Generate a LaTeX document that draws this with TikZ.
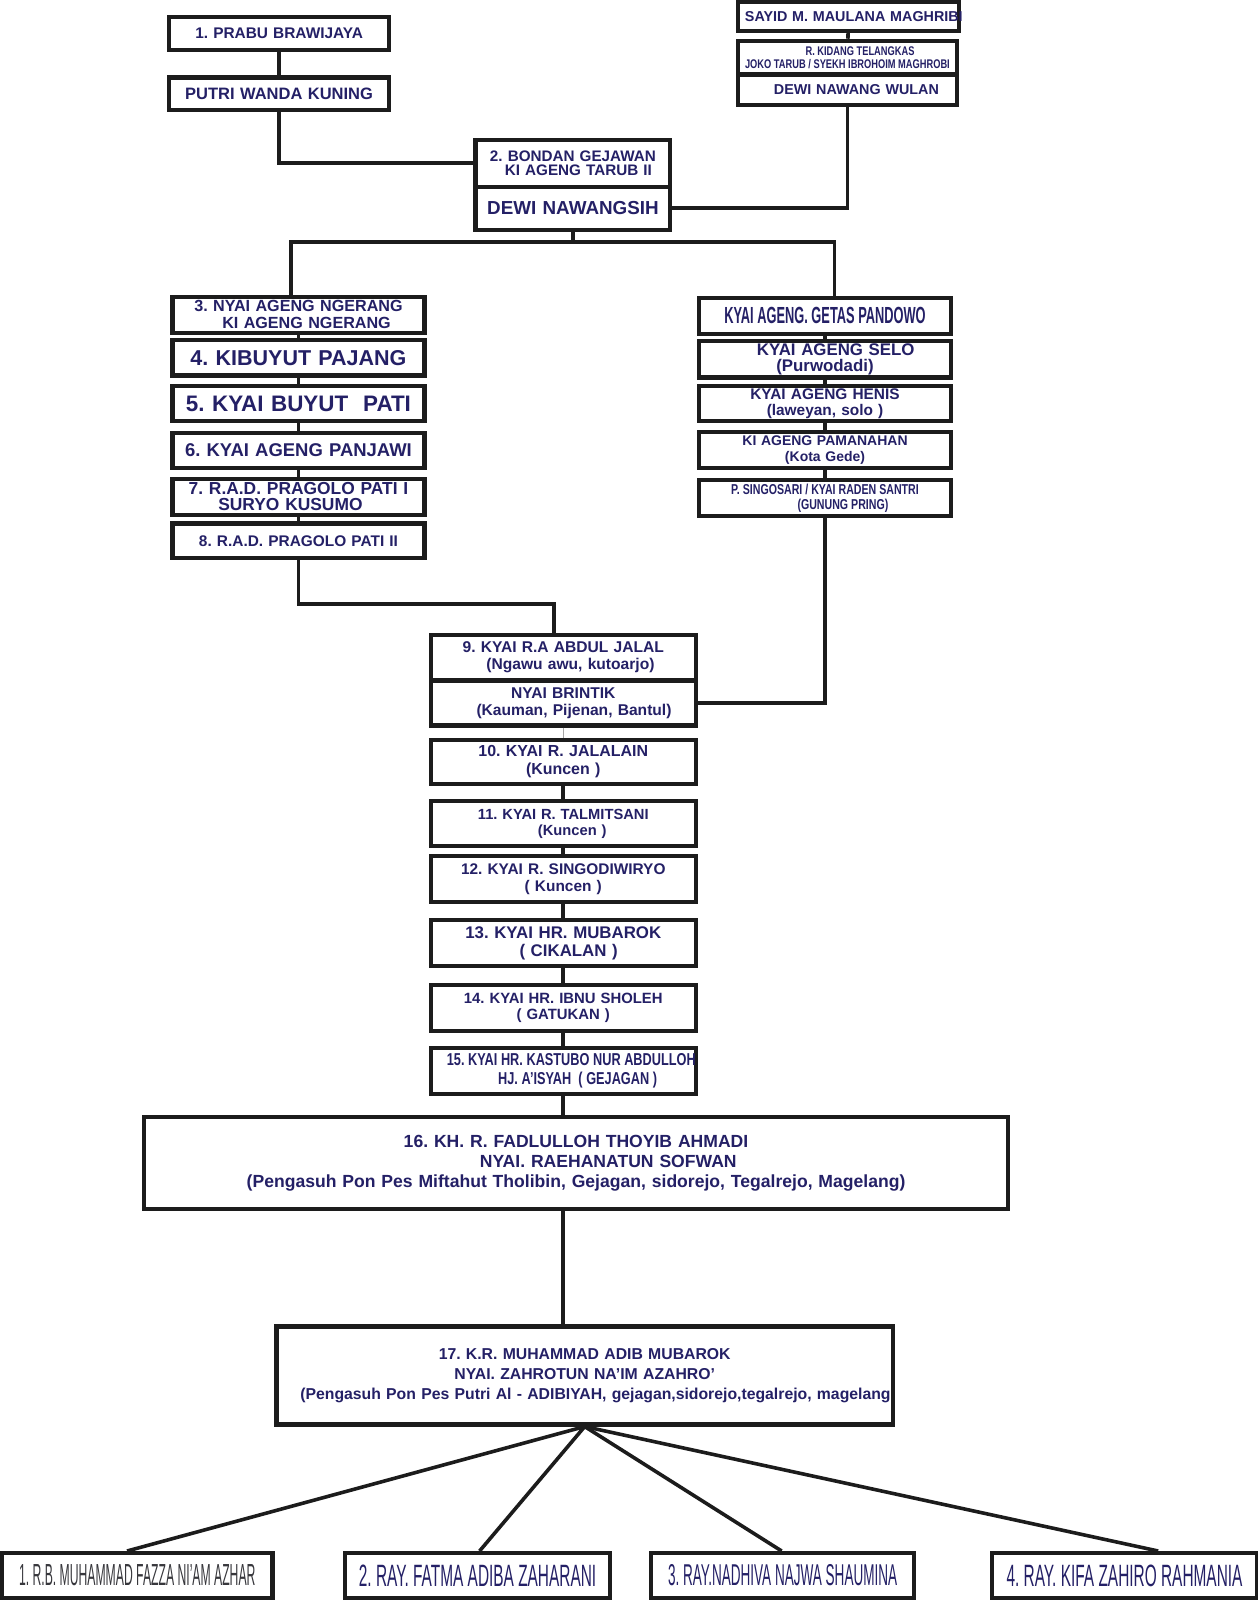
\documentclass[tikz,border=0pt]{standalone}
\usepackage{fontspec}
\setmainfont{Liberation Sans}
\newfontfamily\CondA[FakeStretch=0.4]{Liberation Sans}
\newfontfamily\CondB[FakeStretch=0.45]{Liberation Sans}
\newfontfamily\CondC[FakeStretch=0.5]{Liberation Sans}
\newfontfamily\NarrowA[FakeStretch=0.55]{Liberation Sans}
\newfontfamily\NarrowB[FakeStretch=0.74]{Liberation Sans}
\usetikzlibrary{positioning,calc}
\newcommand{\Px}{0.02cm}
\newcommand{\BoxLine}{2.3pt}
\newcommand{\LinkLine}{2pt}
\newcommand{\LeftX}{292.5}
\newcommand{\RightX}{808.5}
\newcommand{\MidX}{552}
\newcommand{\SideW}{247}
\newcommand{\MidW}{260}
\definecolor{LineBlack}{RGB}{28, 28, 28}
\definecolor{NameBlue}{RGB}{36, 32, 102}
\definecolor{NameGrey}{RGB}{55, 55, 60}
\newcommand{\NameFont}[2]{\fontsize{#1}{#2}\bfseries\selectfont}
\newcommand{\SqueezeFont}[3]{#1\fontsize{#2}{#3}\selectfont}
\newcommand{\Tight}[1]{\spaceskip=#1\xspaceskip=#1\relax}
\tikzset{
  boxsize/.style 2 args={minimum width=#1*\Px, text width=#1*\Px, minimum height=#2*\Px},
}
\frenchspacing
\begin{document}
\begin{tikzpicture}[x=\Px, y=-\Px]
  \tikzstyle{person}=[draw=LineBlack, line width=\BoxLine, fill=white, inner sep=0pt, align=center, text=NameBlue]
  \tikzstyle{link}=[draw=LineBlack, line width=\LinkLine]
  \fill[white] (0,0) rectangle (1232,1568);
  \useasboundingbox (0,0) rectangle (1232,1568);

  % First couple
  \node[person, boxsize={215}{32}, font=\NameFont{8.6pt}{10pt}] (prabu) at (273.5,33) {1. PRABU BRAWIJAYA};
  \node[person, boxsize={215}{32}, font=\NameFont{9.2pt}{10pt}] (wanda) at (273.5,92) {PUTRI WANDA KUNING};
  \node[person, boxsize={217}{28}, font=\NameFont{8pt}{9pt}] (sayid) at (831.5,16) {\mbox{\hspace*{4pt}SAYID M. MAULANA MAGHRIBI}};
  \node[person, boxsize={215}{33}, font=\bfseries\SqueezeFont{\NarrowB}{7pt}{7.6pt}] (kidang) at (830.5,56.5) {\Tight{1.45pt}\hspace*{14pt}R. KIDANG TELANGKAS\\\mbox{JOKO TARUB / SYEKH IBROHOIM MAGHROBI}};
  \node[person, boxsize={215}{30}, font=\NameFont{8pt}{9pt}] (wulan) at (830.5,88) {\hspace*{10pt}DEWI NAWANG WULAN};

  % Second couple
  \node[person, boxsize={191}{46}, font=\NameFont{8.5pt}{7.8pt}] (bondan) at (561.5,160) {2. BONDAN GEJAWAN\\\hspace*{6pt}KI AGENG TARUB II};
  \node[person, boxsize={191}{42}, font=\NameFont{10.5pt}{12pt}] (nawangsih) at (561.5,204) {DEWI NAWANGSIH};

  % Left line
  \node[person, boxsize={\SideW}{35}, font=\NameFont{9pt}{9.6pt}] (ngerang) at (\LeftX,308.5) {3. NYAI AGENG NGERANG\\\hspace*{9pt}KI AGENG NGERANG};
  \node[person, boxsize={\SideW}{35}, font=\NameFont{12pt}{13pt}] (pajang) at (\LeftX,350.5) {4. KIBUYUT PAJANG};
  \node[person, boxsize={\SideW}{35}, font=\NameFont{12.5pt}{13pt}] (pati) at (\LeftX,395.5) {5. KYAI BUYUT\ \ PATI};
  \node[person, boxsize={\SideW}{35}, font=\NameFont{10.3pt}{11pt}] (panjawi) at (\LeftX,441.5) {6. KYAI AGENG PANJAWI};
  \node[person, boxsize={\SideW}{36}, font=\NameFont{9.7pt}{9pt}] (pragoloI) at (\LeftX,487) {7. R.A.D. PRAGOLO PATI I\\SURYO KUSUMO\hspace*{9pt}};
  \node[person, boxsize={\SideW}{34}, font=\NameFont{8.6pt}{10pt}] (pragoloII) at (\LeftX,530) {8. R.A.D. PRAGOLO PATI II};

  % Right line
  \node[person, boxsize={\SideW}{35}, font=\bfseries\SqueezeFont{\NarrowA}{13pt}{14pt}] (getas) at (\RightX,309.5) {\Tight{2pt}KYAI AGENG. GETAS PANDOWO};
  \node[person, boxsize={\SideW}{36}, font=\NameFont{9.4pt}{8.8pt}] (selo) at (\RightX,352) {\hspace*{12pt}KYAI AGENG SELO\\(Purwodadi)};
  \node[person, boxsize={\SideW}{35}, font=\NameFont{8.6pt}{9.2pt}] (henis) at (\RightX,395.5) {KYAI AGENG HENIS\\(laweyan, solo )};
  \node[person, boxsize={\SideW}{36}, font=\NameFont{7.8pt}{8.5pt}] (pamanahan) at (\RightX,441) {KI AGENG PAMANAHAN\\(Kota Gede)};
  \node[person, boxsize={\SideW}{36}, font=\bfseries\SqueezeFont{\NarrowB}{8pt}{8.2pt}] (singosari) at (\RightX,488) {\Tight{1.65pt}P. SINGOSARI / KYAI RADEN SANTRI\\\hspace*{20pt}(GUNUNG PRING)};

  % Middle line
  \node[person, boxsize={\MidW}{44}, font=\NameFont{8.7pt}{9.6pt}] (jalal) at (\MidX,644) {9. KYAI R.A ABDUL JALAL\\\hspace*{8pt}(Ngawu awu, kutoarjo)};
  \node[person, boxsize={\MidW}{44}, font=\NameFont{8.7pt}{9.4pt}] (brintik) at (\MidX,689) {NYAI BRINTIK\\\hspace*{12pt}(Kauman, Pijenan, Bantul)};
  \node[person, boxsize={\MidW}{43}, font=\NameFont{8.9pt}{10.2pt}] (jalalain) at (\MidX,746.5) {10. KYAI R. JALALAIN\\(Kuncen )};
  \node[person, boxsize={\MidW}{44}, font=\NameFont{8.2pt}{9pt}] (talmitsani) at (\MidX,807) {11. KYAI R. TALMITSANI\\\hspace*{10pt}(Kuncen )};
  \node[person, boxsize={\MidW}{45}, font=\NameFont{8.6pt}{9.4pt}] (singodiwiryo) at (\MidX,861.5) {12. KYAI R. SINGODIWIRYO\\( Kuncen )};
  \node[person, boxsize={\MidW}{45}, font=\NameFont{9.4pt}{10.2pt}] (mubarok) at (\MidX,924.5) {13. KYAI HR. MUBAROK\\\hspace*{6pt}( CIKALAN )};
  \node[person, boxsize={\MidW}{45}, font=\NameFont{8.3pt}{9pt}] (sholeh) at (\MidX,987.5) {14. KYAI HR. IBNU SHOLEH\\( GATUKAN )};
  \node[person, boxsize={\MidW}{45}, font=\bfseries\SqueezeFont{\NarrowB}{9.6pt}{10.6pt}] (kastubo) at (\MidX,1049.5) {\Tight{2pt}\mbox{\hspace*{9pt}15. KYAI HR. KASTUBO NUR ABDULLOH}\\\hspace*{16pt}HJ. A’ISYAH\ \ ( GEJAGAN )};

  % Parents
  \node[person, boxsize={847}{90}, font=\NameFont{9.8pt}{11pt}] (fadlulloh) at (564.5,1140) {16. KH. R. FADLULLOH THOYIB AHMADI\\\hspace*{36pt}NYAI. RAEHANATUN SOFWAN\\(Pengasuh Pon Pes Miftahut Tholibin, Gejagan, sidorejo, Tegalrejo, Magelang)};
  \node[person, boxsize={604}{96}, font=\NameFont{8.8pt}{11.3pt}] (adib) at (573,1348) {17. K.R. MUHAMMAD ADIB MUBAROK\\NYAI. ZAHROTUN NA’IM AZAHRO’\\\hspace*{12pt}(Pengasuh Pon Pes Putri Al - ADIBIYAH, gejagan,sidorejo,tegalrejo, magelang};

  % Children
  \node[person, boxsize={265}{44}, text=NameGrey, font=\SqueezeFont{\CondA}{17pt}{18pt}] (fazza) at (134.5,1544) {\Tight{1.9pt}\mbox{1. R.B. MUHAMMAD FAZZA NI’AM AZHAR}};
  \node[person, boxsize={260}{44}, font=\SqueezeFont{\CondC}{17.2pt}{18pt}] (fatma) at (468,1544) {\Tight{2.4pt}\mbox{2. RAY. FATMA ADIBA ZAHARANI}};
  \node[person, boxsize={258}{44}, font=\SqueezeFont{\CondB}{16.8pt}{18pt}] (nadhiva) at (767,1544) {\Tight{2.1pt}\mbox{3. RAY.NADHIVA NAJWA SHAUMINA}};
  \node[person, boxsize={260}{44}, font=\SqueezeFont{\CondC}{17.2pt}{18pt}] (kifa) at (1102,1544) {\Tight{2.4pt}\mbox{4. RAY. KIFA ZAHIRO RAHMANIA}};

  % Links
  \draw[link] (prabu) -- (wanda);
  \draw[link] (wanda.south) |- (bondan.west);
  \draw[link] (sayid) -- (kidang);
  \draw[link] (wulan.south) |- (nawangsih.east);
  \coordinate (fork) at (nawangsih.south |- 0,237);
  \draw[link] (nawangsih.south) -- (fork) -| ([xshift=-7.5*\Px]ngerang.north);
  \draw[link] (fork) -| ([xshift=9.5*\Px]getas.north);
  \foreach \a/\b in {ngerang/pajang, pajang/pati, pati/panjawi, panjawi/pragoloI, pragoloI/pragoloII,
                     getas/selo, selo/henis, henis/pamanahan, pamanahan/singosari,
                     jalalain/talmitsani, talmitsani/singodiwiryo, singodiwiryo/mubarok, mubarok/sholeh, sholeh/kastubo}
    \draw[link] (\a) -- (\b);
  \coordinate (drop) at (543,592);
  \draw[link] (pragoloII.south) |- (drop) -- (drop |- jalal.north);
  \draw[link] (singosari.south) |- (brintik.east);
  \draw[gray!70, line width=0.6pt] (brintik) -- (jalalain);
  \draw[link] (kastubo.south) -- (kastubo.south |- fadlulloh.north);
  \draw[link] (kastubo.south |- fadlulloh.south) -- (kastubo.south |- adib.north);
  \foreach \c/\s in {fazza/-10, fatma/2, nadhiva/-1, kifa/33}
    \draw[link] (adib.south) -- ([xshift=\s*\Px]\c.north);
\end{tikzpicture}
\end{document}
